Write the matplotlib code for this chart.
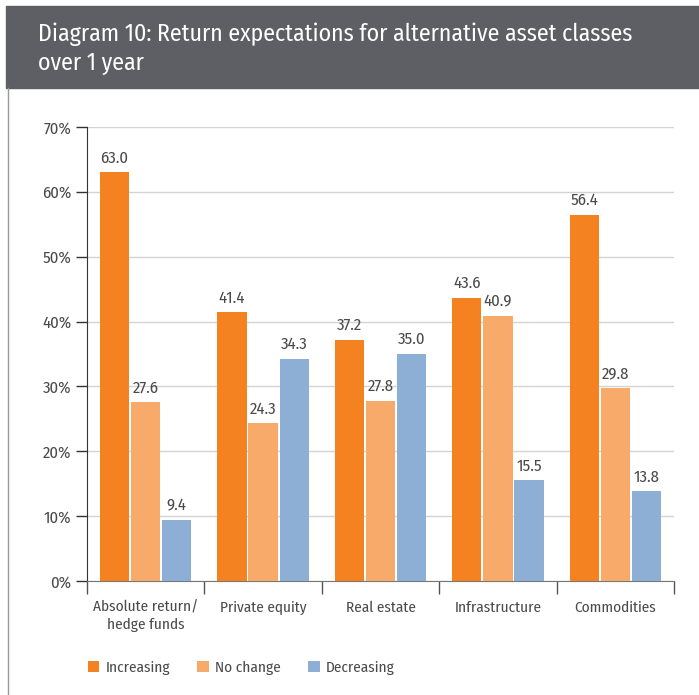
import matplotlib
matplotlib.use("Agg")
import matplotlib.pyplot as plt
import numpy as np
from matplotlib.patches import Rectangle, Patch
from matplotlib.lines import Line2D

plt.rcParams["font.family"] = ["Fira Sans Condensed", "Roboto Condensed", "DejaVu Sans"]

categories = ["Absolute return/\nhedge funds", "Private equity", "Real estate",
              "Infrastructure", "Commodities"]
series_names = ["Increasing", "No change", "Decreasing"]
increasing = [63.0, 41.4, 37.2, 43.6, 56.4]
no_change = [27.6, 24.3, 27.8, 40.9, 29.8]
decreasing = [9.4, 34.3, 35.0, 15.5, 13.8]
y_ticks = [0, 10, 20, 30, 40, 50, 60, 70]

colors = ["#F58220", "#F8AA6B", "#8DAFD6"]
text_col = "#4a4a4a"

W, H = 699, 695
fig = plt.figure(figsize=(W / 100, H / 100), dpi=100)
fig.patch.set_facecolor("white")

# header band and left rule
fig.patches.append(Rectangle((6 / W, 1 - 88 / H), 1 - 6 / W, 82 / H,
                             transform=fig.transFigure, color="#5E5F64", zorder=0))
fig.lines.append(Line2D([7.5 / W, 7.5 / W], [0, 1 - 88 / H], transform=fig.transFigure,
                        color="#9a9a9a", lw=1.0))
fig.text(38 / W, 1 - 34 / H, "Diagram 10: Return expectations for alternative asset classes",
         color="white", fontsize=17.2, va="center", ha="left")
fig.text(38 / W, 1 - 63 / H, "over 1 year", color="white", fontsize=17.2,
         va="center", ha="left")

ax = fig.add_axes([87 / W, 1 - 581 / H, (674 - 87) / W, (581 - 127) / H])
x = np.arange(len(categories))
width = 0.25
offsets = [-0.265, 0.0, 0.265]
for vals, off, col, name in zip([increasing, no_change, decreasing], offsets, colors, series_names):
    bars = ax.bar(x + off, vals, width, color=col, label=name, zorder=3)
    for b, v in zip(bars, vals):
        ax.text(b.get_x() + b.get_width() / 2, v + 1.0, f"{v:.1f}", ha="center",
                va="bottom", fontsize=12, color=text_col)

ax.set_xlim(-0.5, len(categories) - 0.5)
ax.set_ylim(0, 70)
ax.set_yticks(y_ticks)
ax.set_yticklabels([f"{t}%" for t in y_ticks], fontsize=12, color=text_col)
ax.yaxis.grid(True, color="#d3d3d3", lw=1.0, zorder=0)
ax.set_axisbelow(True)

ax.set_xticks(x)
ax.set_xticklabels(categories, fontsize=11, color=text_col, linespacing=1.3)
ax.set_xticks(np.arange(-0.5, len(categories)), minor=True)
ax.tick_params(axis="x", which="major", length=0, pad=14)
ax.tick_params(axis="x", which="minor", length=9, width=1, color="#555555", direction="out")
ax.tick_params(axis="y", length=8, width=1, color="#333333", direction="out", pad=3)

for s in ["top", "right"]:
    ax.spines[s].set_visible(False)
ax.spines["left"].set_color("#333333")
ax.spines["bottom"].set_color("#777777")

handles = [Patch(facecolor=c, label=n) for c, n in zip(colors, series_names)]
fig.legend(handles=handles, loc="center left", bbox_to_anchor=(74 / W, 1 - 668 / H),
           ncol=3, frameon=False, fontsize=11, handlelength=0.75, handleheight=0.75,
           handletextpad=0.4, columnspacing=1.8, labelcolor=text_col)

fig.savefig("out.png", dpi=100)
